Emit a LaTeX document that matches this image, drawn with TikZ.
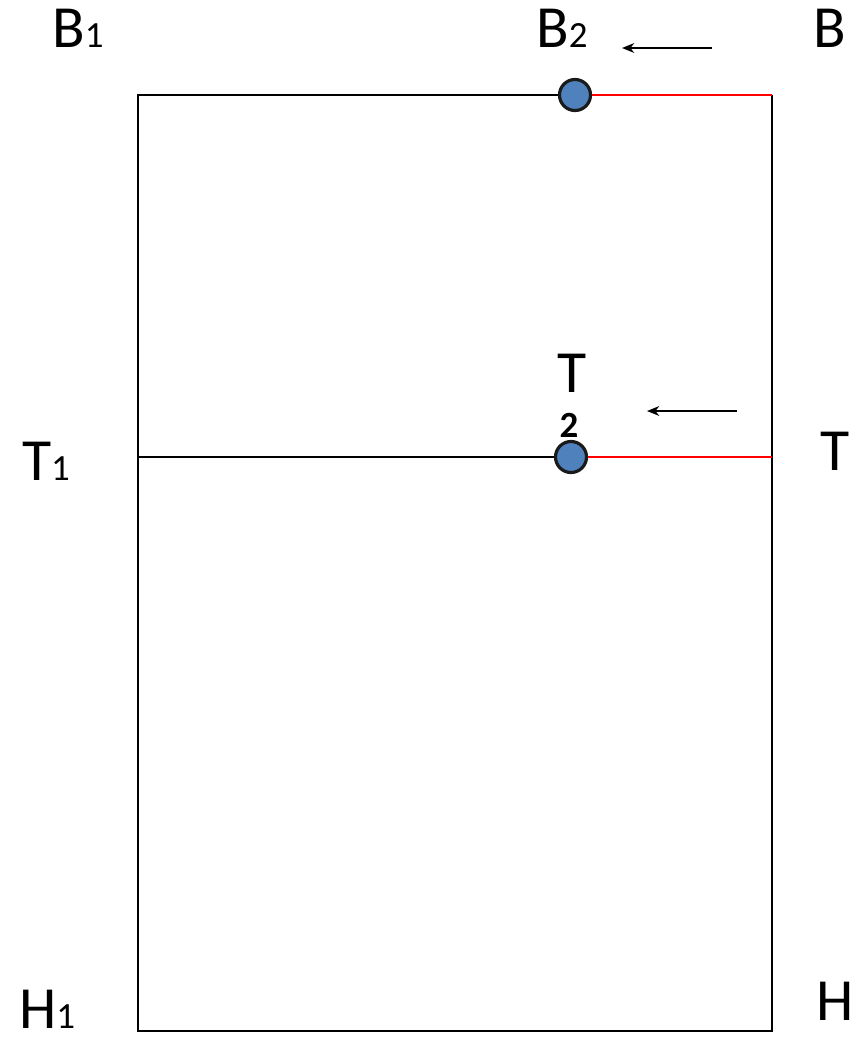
\documentclass[tikz,border=0pt]{standalone}
\usepackage{fontspec}
\setmainfont{Carlito}
\usepackage{xcolor}
\usepackage{tikz}
\usetikzlibrary{arrows.meta, positioning}
\definecolor{dotblue}{HTML}{4F81BD}
\definecolor{dotedge}{HTML}{1A1A1A}
\definecolor{linered}{HTML}{FF0000}
\newcommand{\subone}[1]{{\fontsize{10.5}{12}\selectfont #1}}

\begin{document}
\begin{tikzpicture}[x=0.01cm, y=-0.01cm,
    lbl/.style={inner sep=0pt, anchor=base, font=\fontsize{17}{20}\selectfont},
    dot/.style={circle, fill=dotblue, draw=dotedge, line width=0.9pt, minimum size=0.31cm, inner sep=0pt},
    frame/.style={draw=black, line width=0.6pt},
    redline/.style={draw=linered, line width=0.7pt},
    pusharrow/.style={-{Stealth[length=3.5pt, width=2.8pt]}, line width=0.5pt}]
        \useasboundingbox (0,0) rectangle (856,1042);
        % Corners of the frame
        \coordinate (B1c) at (138,95);
        \coordinate (Bc) at (772,95);
        \coordinate (T1c) at (138,457);
        \coordinate (Tc) at (772,457);
        \coordinate (H1c) at (138,1031);
        \coordinate (Hc) at (772,1031);
        % Sliding points
        \node[dot] (b2dot) at (575,95) {};
        \node[dot] (t2dot) at (571,457) {};
        % Frame
        \draw[frame] (b2dot) -- (B1c) -- (H1c) -- (Hc) -- (Bc);
        \draw[frame] (T1c) -- (t2dot);
        \draw[redline] (b2dot) -- (Bc);
        \draw[redline] (t2dot) -- (Tc);
        % Arrows
        \coordinate (bfrom) at (712,48);
        \coordinate (bto) at (622,48);
        \coordinate (tfrom) at (737,411);
        \coordinate (tto) at (647,411);
        \draw[pusharrow] (bfrom) -- (bto);
        \draw[pusharrow] (tfrom) -- (tto);
        % Labels
        \node[lbl] (labB1) at (78,47) {B\subone{1}};
        \node[lbl] (labB2) at (562,47) {B\subone{2}};
        \node[lbl] (labB) at (830,47) {B};
        \node[lbl] (labT2) at (572,392) {T};
        \node[inner sep=0pt, anchor=base, font=\fontsize{10.5}{12}\selectfont\bfseries] (labT2sub) at (569,437) {2};
        \node[lbl] (labT) at (835,470) {T};
        \node[lbl] (labT1) at (46,480) {T\subone{1}};
        \node[lbl] (labH1) at (47,1028) {H\subone{1}};
        \node[lbl] (labH) at (835,1020) {H};
      \end{tikzpicture}
\end{document}
